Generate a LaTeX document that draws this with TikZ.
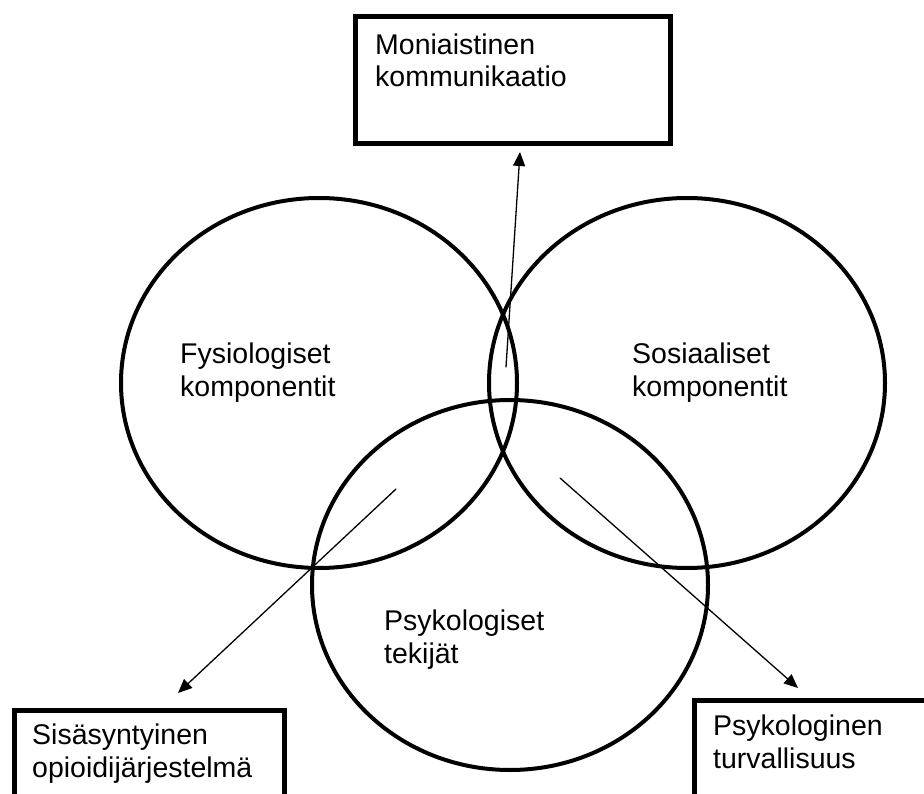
\documentclass[tikz,border=0pt]{standalone}
\usepackage{fontspec}
\setmainfont{Liberation Sans}
\usetikzlibrary{arrows.meta,shapes.geometric}

\begin{document}
\begin{tikzpicture}[x=1pt,y=-1pt,>={Triangle[length=14pt,width=12pt]},
  font=\fontsize{28.5}{32.5}\selectfont,line cap=round,
  ring/.style={draw,ellipse,line width=4pt,minimum width=396pt,minimum height=370pt,inner sep=0pt},
  box/.style={draw,rectangle,line width=5pt,anchor=north west,inner sep=0pt},
  txt/.style={anchor=base west,align=left,inner sep=0pt},
  link/.style={->,line width=1.3pt}]
\useasboundingbox (0,0) rectangle (924,794);
\clip (0,0) rectangle (924,794);
% circles
\node[ring] (fysio) at (319,383) {};
\node[ring] (sosio) at (687,383) {};
\node[ring] (psyko) at (510,585) {};
\node[txt] (fysioT) at (180,396) {Fysiologiset\\komponentit};
\node[txt] (sosioT) at (632,396) {Sosiaaliset\\komponentit};
\node[txt] (psykoT) at (384,663) {Psykologiset\\tekij\"at};
% boxes
\node[box,minimum width=315pt,minimum height=127pt] (commBox) at (353,14) {};
\node[box,minimum width=270pt,minimum height=130pt] (opioBox) at (12,708) {};
\node[box,minimum width=260pt,minimum height=130pt] (safeBox) at (692,698) {};
\node[txt] (commT) at ([shift={(22,73)}]commBox.north west) {Moniaistinen\\kommunikaatio};
\node[txt] (opioT) at ([shift={(20,69)}]opioBox.north west) {Sis\"asyntyinen\\opioidij\"arjestelm\"a};
\node[txt] (safeT) at ([shift={(21,70)}]safeBox.north west) {Psykologinen\\turvallisuus};
% arrows
\coordinate (commFrom) at (506,367);
\coordinate (commTo) at (520,152);
\coordinate (opioFrom) at (396,489);
\coordinate (opioTo) at (178,693);
\coordinate (safeFrom) at (560,478);
\coordinate (safeTo) at (798,688);
\draw[link] (commFrom) -- (commTo);
\draw[link] (opioFrom) -- (opioTo);
\draw[link] (safeFrom) -- (safeTo);
\end{tikzpicture}
\end{document}
